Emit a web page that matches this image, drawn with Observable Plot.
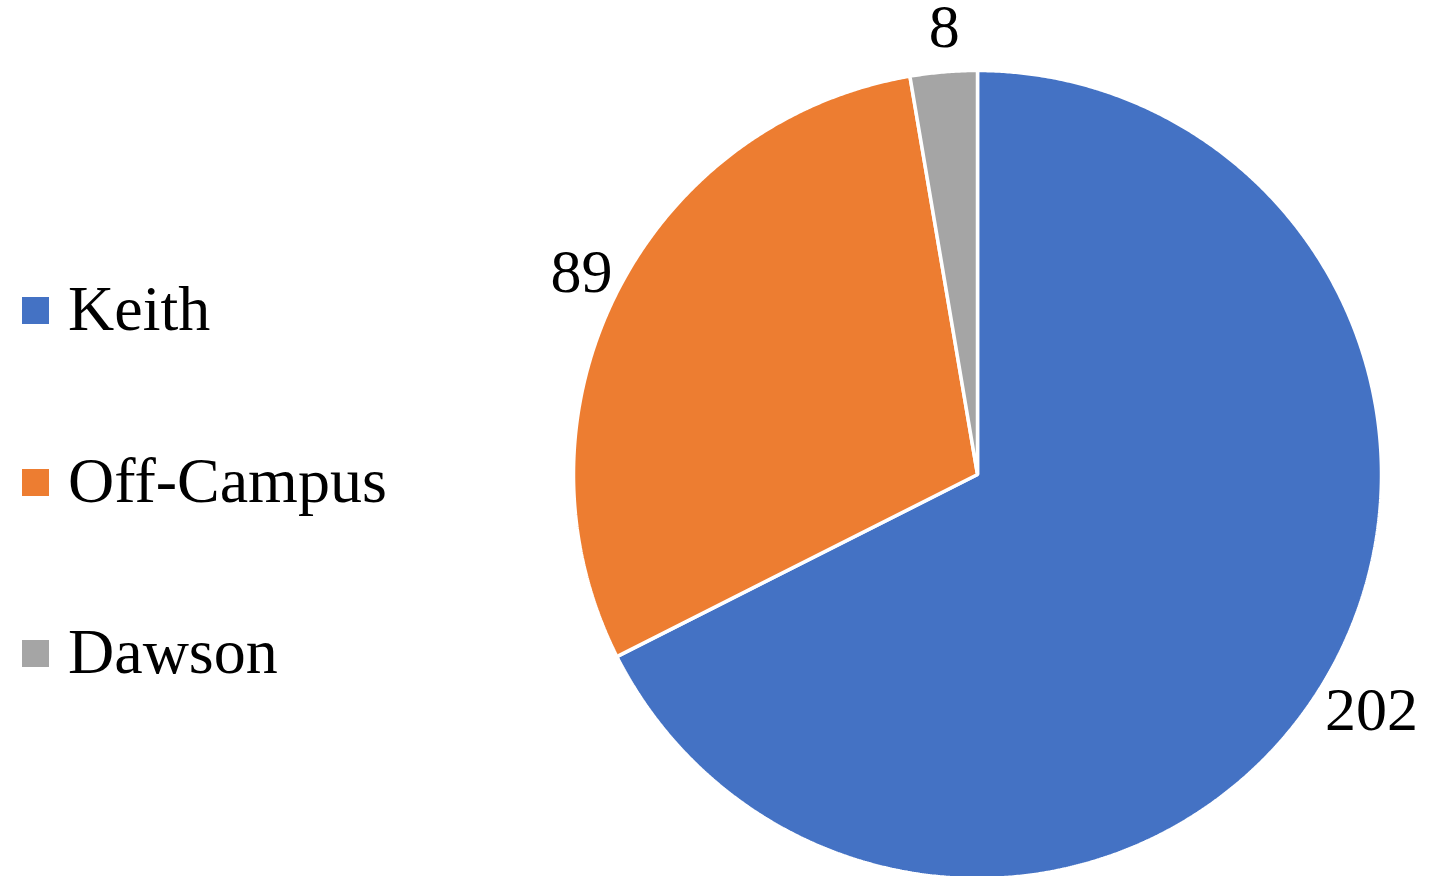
<!DOCTYPE html>
<html>
<head>
<meta charset="utf-8">
<script src="https://cdn.jsdelivr.net/npm/d3@7"></script>
<script src="https://cdn.jsdelivr.net/npm/@observablehq/plot@0.6"></script>
<style>
  html, body { margin: 0; padding: 0; background: #fff; }
  #wrap { position: relative; width: 1430px; height: 876px; overflow: hidden; }
  #chart { position: absolute; left: 0; top: 0; }
  .leg { position: absolute; font-family: "Liberation Serif", "Times New Roman", serif; font-size: 64px; line-height: 64px; color: #000; white-space: nowrap; }
  .sw { position: absolute; width: 27px; height: 27px; }
</style>
</head>
<body>
<div id="wrap"><div id="chart"></div></div>
<script>
const categories = ["Keith", "Off-Campus", "Dawson"];
const values = [202, 89, 8];
const colors = ["#4472C4", "#ED7D31", "#A5A5A5"];

const R = 404; // pixel radius
const cx = 977, cy = 474;

const pie = d3.pie().sort(null).startAngle(0).endAngle(2 * Math.PI)(values);

// slice outlines
const slicePts = [];
pie.forEach((p, i) => {
  const name = categories[i];
  slicePts.push({name, x: 0, y: 0});
  const n = Math.max(4, Math.ceil((p.endAngle - p.startAngle) / 0.005));
  for (let k = 0; k <= n; k++) {
    const a = p.startAngle + (p.endAngle - p.startAngle) * k / n;
    slicePts.push({name, x: Math.sin(a), y: Math.cos(a)});
  }
});

// labels
const fs = 62;
const labels = pie.map((p, i) => {
  const a = (p.startAngle + p.endAngle) / 2;
  const s = Math.sin(a), c = Math.cos(a);
  const txt = String(values[i]);
  const w = txt.length * fs * 0.5, h = fs * 0.68 + 24;
  const g = 12;
  const px = s * (R + g + w / 2) + (s < 0 ? 3 : 0);
  const py = c * (R + g + h / 2);
  return {text: txt, x: px / R, y: py / R};
});

const chart = Plot.plot({
  width: 1430,
  height: 876,
  margin: 0,
  x: {domain: [-1, 1], range: [cx - R, cx + R], axis: null},
  y: {domain: [-1, 1], range: [cy + R, cy - R], axis: null},
  color: {domain: categories, range: colors},
  style: {background: "#fff", overflow: "visible"},
  marks: [
    Plot.line(slicePts, {x: "x", y: "y", z: "name", fill: "name", stroke: "white", strokeWidth: 3.5, curve: "linear-closed", strokeLinejoin: "miter"}),
    Plot.text(labels, {x: "x", y: "y", text: "text", fontSize: fs, fontFamily: "Liberation Serif, Times New Roman, serif", fill: "#000", textAnchor: "middle", lineAnchor: "middle"})
  ]
});
document.getElementById("chart").appendChild(chart);

// legend
const wrap = document.getElementById("wrap");
const baselines = [331, 503, 674];
categories.forEach((name, i) => {
  const sw = document.createElement("div");
  sw.className = "sw";
  sw.style.left = "22px";
  sw.style.top = (baselines[i] - 34) + "px";
  sw.style.background = colors[i];
  wrap.appendChild(sw);
  const t = document.createElement("div");
  t.className = "leg";
  t.style.left = "68px";
  t.style.top = (baselines[i] - 54) + "px";
  t.textContent = name;
  wrap.appendChild(t);
});
</script>
</body>
</html>
